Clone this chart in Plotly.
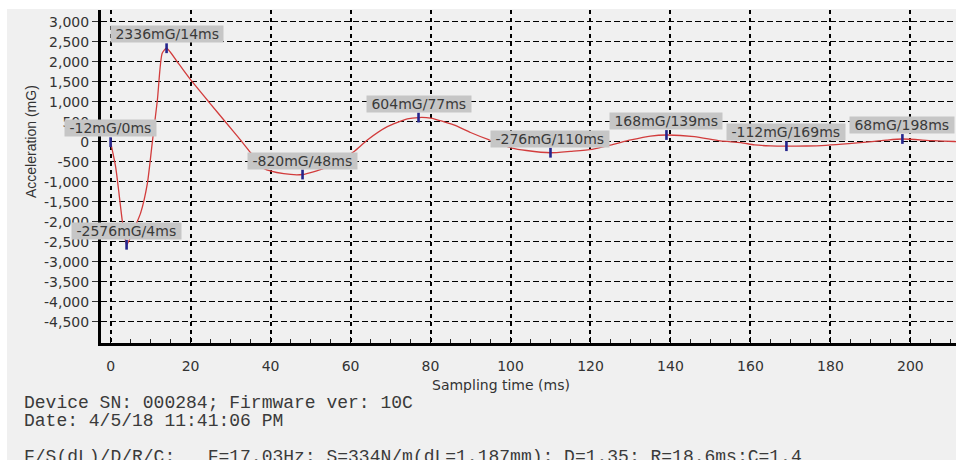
import plotly.graph_objects as go

# Acceleration trace of the drop test (time in ms, acceleration in mG)
time_ms = [0, 1.25, 2.1, 2.9, 4, 5, 6, 7.5, 9.2, 10.4, 11.7, 12.9, 14, 17, 20, 24.8,
           29, 32, 35, 38.3, 43.3, 48, 53.3, 56.5, 60.8, 64.2, 69.2, 74.2, 77, 80,
           85.8, 90, 94.7, 100.4, 104, 110, 115, 120.4, 125.7, 130.1, 135, 139, 146,
           152.4, 157.6, 161, 165, 169, 174, 178.9, 184.6, 190.4, 194, 198, 205.5,
           211, 214]
accel_mg = [-12, -625, -1290, -1958, -2576, -2380, -2150, -1785, -1040, -40, 1042,
            2210, 2336, 1950, 1550, 965, 460, 100, -275, -667, -800, -820, -667,
            -500, -250, 42, 375, 570, 604, 590, 420, 230, 43, -160, -220, -276,
            -240, -190, -65, 43, 140, 168, 127, 18, -23, -80, -105, -112, -108,
            -90, -50, 2, 40, 68, 25, 5, 0]

# Detected extrema
peak_time_ms = [0, 4, 14, 48, 77, 110, 139, 169, 198]
peak_accel_mg = [-12, -2576, 2336, -820, 604, -276, 168, -112, 68]

# Axis ticks
x_tick_vals = [0, 20, 40, 60, 80, 100, 120, 140, 160, 180, 200]
y_tick_vals = [-4500, -4000, -3500, -3000, -2500, -2000, -1500, -1000, -500,
               0, 500, 1000, 1500, 2000, 2500, 3000]
y_tick_text = ["-4,500", "-4,000", "-3,500", "-3,000", "-2,500", "-2,000",
               "-1,500", "-1,000", "-500", "0", "500", "1,000", "1,500",
               "2,000", "2,500", "3,000"]

info_lines = [
    "Device SN: 000284; Firmware ver: 10C",
    "Date: 4/5/18 11:41:06 PM",
    "F/S(dL)/D/R/C:\u00a0\u00a0\u00a0F=17.03Hz; S=334N/m(dL=1.187mm); D=1.35; R=18.6ms;C=1.4",
]

W, H = 956, 460
ML, MR, MT, MB = 101, 0, 10, 117
PW, PH = W - ML - MR, H - MT - MB


def px_x(px):
    return (px - ML) / PW


def px_y(py):
    return (H - MB - py) / PH


SANS = "DejaVu Sans"
TXT = "#333333"

fig = go.Figure()

fig.add_trace(go.Scatter(
    x=time_ms, y=accel_mg, mode="lines",
    line=dict(color="#d23c3c", width=1.3, shape="spline", smoothing=0.6),
    hoverinfo="skip", showlegend=False,
))

fig.add_trace(go.Scatter(
    x=peak_time_ms, y=peak_accel_mg, mode="markers",
    marker=dict(symbol="line-ns", size=7, line=dict(color="#24248c", width=2.6)),
    showlegend=False,
))

annotations = []
for t, v in zip(peak_time_ms, peak_accel_mg):
    annotations.append(dict(
        x=t, y=v, xref="x", yref="y", showarrow=False,
        text="\u00a0" + f"{v}mG/{t}ms" + "\u00a0",
        font=dict(family=SANS, size=14, color="#3a3a3a"),
        bgcolor="#c6c6c6", borderpad=0,
        xanchor="center", yanchor="bottom", yshift=5,
    ))

# axis titles
annotations.append(dict(
    x=px_x(31), y=px_y(142), xref="paper", yref="paper", showarrow=False,
    text="Acceleration (mG)", textangle=-90,
    font=dict(family="Liberation Sans", size=14, color=TXT),
    xanchor="center", yanchor="middle",
))
annotations.append(dict(
    x=px_x(501), y=px_y(385), xref="paper", yref="paper", showarrow=False,
    text="Sampling time (ms)",
    font=dict(family=SANS, size=14, color=TXT),
    xanchor="center", yanchor="middle",
))

# device info block
for line, cy in zip(info_lines, [403, 421, 457]):
    annotations.append(dict(
        x=px_x(22), y=px_y(cy), xref="paper", yref="paper", showarrow=False,
        text=line, font=dict(family="Liberation Mono", size=18, color="#3a3a3a"),
        xanchor="left", yanchor="middle",
    ))

shapes = [
    # white border strips at the top and left edges
    dict(type="rect", xref="paper", yref="paper", layer="below",
         x0=px_x(0), x1=px_x(W), y0=px_y(9), y1=px_y(0),
         fillcolor="white", line=dict(width=0)),
    dict(type="rect", xref="paper", yref="paper", layer="below",
         x0=px_x(0), x1=px_x(7), y0=px_y(H), y1=px_y(0),
         fillcolor="white", line=dict(width=0)),
]

fig.update_layout(
    width=W, height=H,
    margin=dict(l=ML, r=MR, t=MT, b=MB, pad=0),
    paper_bgcolor="#f0f0f0", plot_bgcolor="#f0f0f0",
    annotations=annotations, shapes=shapes,
    showlegend=False,
    xaxis=dict(
        range=[-2.4, 211.4], tickvals=x_tick_vals,
        showline=True, linecolor="black", linewidth=3,
        ticks="inside", ticklen=6, tickcolor="black", tickwidth=1,
        minor=dict(dtick=5, tick0=0, ticks="inside", ticklen=4,
                   tickcolor="#222222", showgrid=False),
        showgrid=True, gridcolor="black", gridwidth=1.6, griddash="4px,4px",
        zeroline=False, ticklabelstandoff=8,
        tickfont=dict(family=SANS, size=14, color=TXT),
    ),
    yaxis=dict(
        range=[-5032, 3292], tickvals=y_tick_vals, ticktext=y_tick_text,
        showline=True, linecolor="black", linewidth=3,
        ticks="outside", ticklen=6, tickcolor="#333333", tickwidth=1,
        showgrid=True, gridcolor="black", gridwidth=1.4, griddash="6px,3px",
        zeroline=False,
        tickfont=dict(family=SANS, size=14, color=TXT),
    ),
)

fig.write_html("out.html")
